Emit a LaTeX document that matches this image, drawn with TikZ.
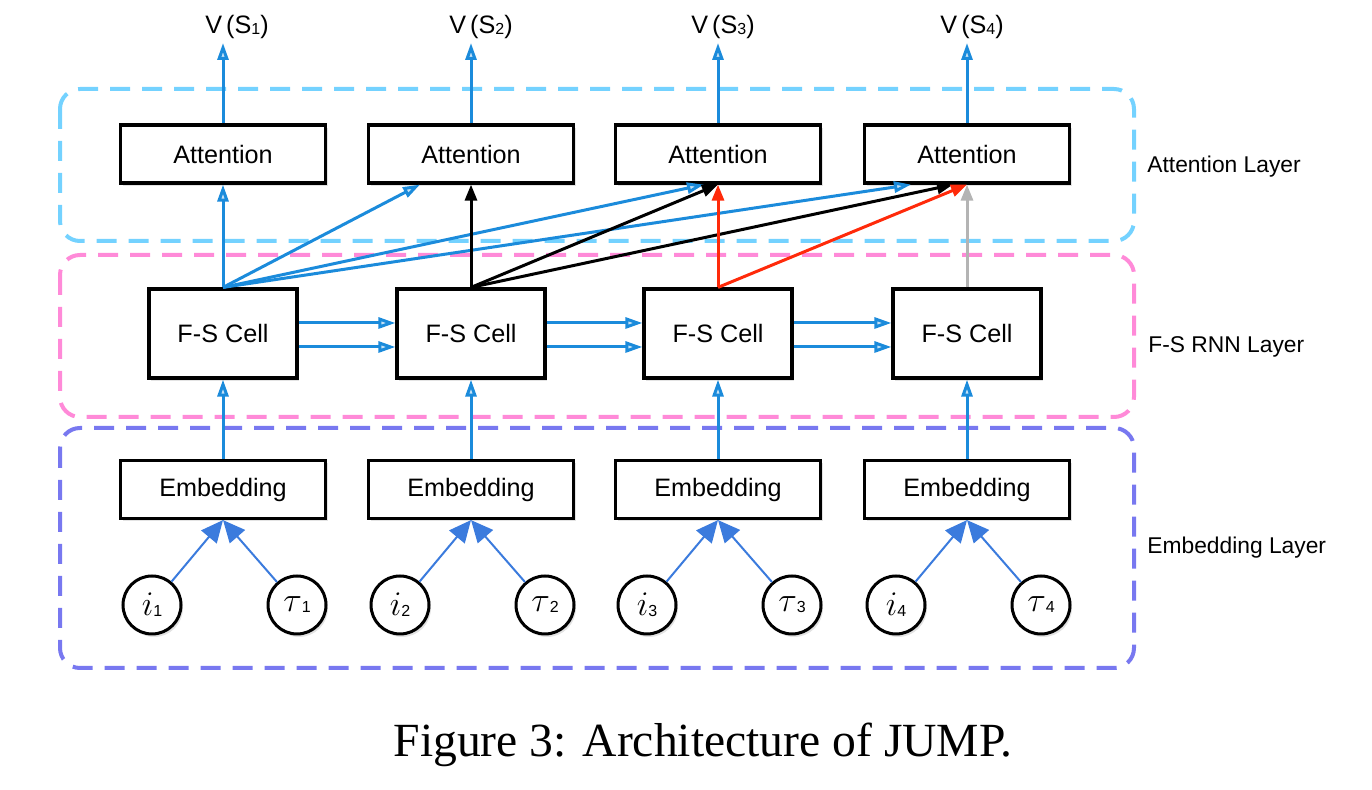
\documentclass[tikz,border=0pt]{standalone}
\usepackage{fontspec}
\setmainfont{Liberation Sans}
\newfontfamily\capfont{Liberation Serif}
\usetikzlibrary{arrows.meta,shadows}
\definecolor{attdash}{HTML}{74D2FF}
\definecolor{fsdash}{HTML}{FF8AD8}
\definecolor{embdash}{HTML}{7878F0}
\definecolor{arblue}{HTML}{1B8BDB}
\definecolor{inblue}{HTML}{3B7BDD}
\definecolor{arred}{HTML}{FF2A0A}
\definecolor{argray}{HTML}{B4B4B4}
\tikzset{
  shad/.style={drop shadow={opacity=0.22, shadow xshift=1pt, shadow yshift=-1.5pt}},
  box/.style={draw=black, line width=1.6pt, fill=white, inner sep=0pt, shad,
    font=\fontsize{12.6}{14}\selectfont},
  attbox/.style={box, minimum width=102.5pt, minimum height=29pt},
  fsbox/.style={box, minimum width=74pt, minimum height=44.5pt},
  inp/.style={circle, draw=black, line width=1.5pt, fill=white, minimum size=29pt, inner sep=0pt, shad},
  layer/.style={line width=2pt, dash pattern=on 10pt off 6pt, rounded corners=10pt},
  bluear/.style={draw=arblue, line width=1.5pt, -{Triangle[length=8.5pt,width=5.5pt,fill=arblue!25]}},
  blkar/.style={draw=black, line width=1.5pt, -{Triangle[length=8pt,width=6pt]}},
  redar/.style={draw=arred, line width=1.5pt, -{Triangle[length=8pt,width=6pt]}},
  grayar/.style={draw=argray, line width=1.5pt, -{Triangle[length=8pt,width=6pt]}},
  inar/.style={draw=inblue, line width=1pt, -{Triangle[length=11pt,width=10pt]}},
  laylab/.style={anchor=west, inner sep=0pt, font=\fontsize{11.4}{13}\selectfont},
  vlab/.style={inner sep=0pt, font=\fontsize{12.6}{14}\selectfont}
}
\newcommand{\smallsub}[1]{\raisebox{-0.5pt}{\fontsize{8}{8}\selectfont #1}}
\begin{document}
\begin{tikzpicture}[x=0.5pt,y=-0.5pt]
\useasboundingbox (0,0) rectangle (1372,790);
% layer frames
\draw[layer, attdash] (60,89) rectangle (1134,241);
\draw[layer, fsdash] (60,255) rectangle (1134,417);
\draw[layer, embdash] (60,428) rectangle (1134,668);
\node[laylab] (lab1) at (1147,167) {Attention Layer};
\node[laylab] (lab2) at (1148,347) {F-S RNN Layer};
\node[laylab] (lab3) at (1147,548) {Embedding Layer};
% nodes
\foreach \n/\X/\V in {1/223/237,2/471/481,3/718/723,4/967/972} {
  \node[attbox] (att\n) at (\X,154) {Attention};
  \node[fsbox] (fs\n) at (\X,333.5) {F-S Cell};
  \node[attbox] (emb\n) at (\X,489.5) {Embedding};
  \node[inp] (i\n) at (\X-71,605) {\fontsize{17.28}{17}\selectfont$i$\smallsub{\n}};
  \node[inp] (t\n) at (\X+74,605) {\fontsize{17.28}{17}\selectfont$\tau$\smallsub{\n}};
  \node[vlab] (v\n) at (\V,27) {V\,(S\smallsub{\n})};
  \coordinate (top\n) at (\X,43);
}
% connectors
\foreach \n in {1,2,3,4} {
  \draw[bluear] (att\n.north) -- (top\n);
  \draw[bluear] (emb\n.north) -- (fs\n.south);
  \draw[inar] (i\n) -- (emb\n.south);
  \draw[inar] (t\n) -- (emb\n.south);
}
\foreach \a/\b in {1/2,2/3,3/4} {
  \draw[bluear] ([yshift=5.25pt]fs\a.east) -- ([yshift=5.25pt]fs\b.west);
  \draw[bluear] ([yshift=-6.75pt]fs\a.east) -- ([yshift=-6.75pt]fs\b.west);
}
\draw[bluear] (fs1.north) -- (att1.south);
\draw[bluear] (fs1.north) -- ([xshift=-25.5pt]att2.south);
\draw[bluear] (fs1.north) -- ([xshift=-7pt]att3.south);
\draw[bluear] (fs1.north) -- ([xshift=-28pt]att4.south);
\draw[blkar] (fs2.north) -- (att2.south);
\draw[blkar] (fs2.north) -- (att3.south);
\draw[blkar] (fs2.north) -- ([xshift=-7pt]att4.south);
\draw[redar] (fs3.north) -- (att3.south);
\draw[redar] (fs3.north) -- (att4.south);
\draw[grayar] (fs4.north) -- (att4.south);
% caption
\node[font=\capfont\fontsize{23.8}{28}\selectfont, inner sep=0pt] (cap) at (703,745) {Figure 3: Architecture of JUMP.};
\end{tikzpicture}
\end{document}
